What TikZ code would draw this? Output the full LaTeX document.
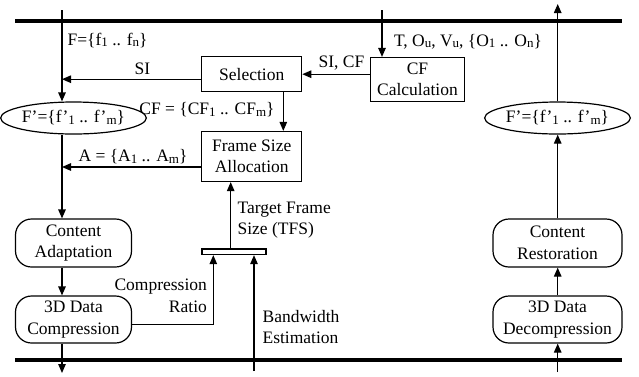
\documentclass[tikz,border=0pt]{standalone}
\usepackage{fontspec}
\setmainfont{Liberation Serif}
\usetikzlibrary{arrows.meta,shapes.geometric}
\newcommand\mysb[1]{\raisebox{-1.2pt}{\fontsize{13}{13}\selectfont #1}}
\begin{document}
\begin{tikzpicture}[x=1pt,y=-1pt,
  font=\fontsize{17.5}{21.5}\selectfont,
  line width=1.2pt,
  arr/.style={-{Triangle[length=9pt,width=7.5pt]}},
  sqbox/.style={draw,rectangle,inner sep=0pt,align=center},
  rbox/.style={draw,rectangle,rounded corners=16pt,inner sep=0pt,align=center},
  ell/.style={draw,ellipse,inner sep=0pt},
  lbl/.style={inner sep=0pt},
  bus/.style={line width=4pt}]
\useasboundingbox (0,0) rectangle (639,376);
% buses
\coordinate (tl) at (15,21); \coordinate (tr) at (622,21);
\coordinate (bl) at (15,360); \coordinate (br) at (622,360);
\draw[bus] (tl) -- (tr);
\draw[bus] (bl) -- (br);
% nodes
\node[sqbox,minimum width=100pt,minimum height=35pt] (sel) at (251.7,74.2) {Selection};
\node[sqbox,minimum width=94pt,minimum height=44pt] (cfc) at (417.5,79.5) {CF\\Calculation};
\node[sqbox,minimum width=100pt,minimum height=50pt] (fsa) at (251.7,156.5) {Frame Size\\Allocation};
\node[ell,minimum width=117pt,minimum height=32pt] (lell) at (73.5,118) {F’=\{f’\mysb{1} .. f’\mysb{m}\}};
\node[ell,minimum width=128pt,minimum height=32pt] (rell) at (557.5,118) {F’=\{f’\mysb{1} .. f’\mysb{m}\}};
\node[rbox,minimum width=116pt,minimum height=48pt] (cad) at (73.5,243) {Content\\Adaptation};
\node[rbox,minimum width=116pt,minimum height=47pt] (comp) at (73.5,319.5) {3D Data\\Compression};
\node[rbox,minimum width=129pt,minimum height=48pt] (rest) at (557.5,243) {Content\\Restoration};
\node[rbox,minimum width=129pt,minimum height=47pt] (dcomp) at (557.5,319.5) {3D Data\\Decompression};
\node[draw,rectangle,minimum width=64pt,minimum height=5.5pt,inner sep=0pt] (bar) at (234,251.8) {};
% free ends
\coordinate (inF) at (62,10);
\coordinate (outL) at (62,373);
\coordinate (inT) at (382,10);
\coordinate (inR) at (557.7,372);
\coordinate (outR) at (557.7,4);
\coordinate (inBW) at (254,371);
\coordinate (crc) at (213.3,324.5);
% connectors left
\draw[arr] (inF) -- (inF |- lell.north);
\draw[arr] ([yshift=-5pt]sel.west) coordinate (siS) -- (siS -| inF);
\draw[arr] ([yshift=-10.5pt]fsa.west) coordinate (aS) -- (aS -| inF);
\draw[arr] (inF |- lell.south) -- (inF |- cad.north);
\draw[arr] (inF |- cad.south) -- (inF |- comp.north);
\draw[arr] (inF |- comp.south) -- (outL);
% top middle
\draw[arr] (inT) -- (inT |- cfc.north);
\draw[arr] (sel.east -| cfc.west) -- (sel.east);
\draw[arr] (sel.south -| 283.3,0) coordinate (sdS) -- (sdS |- fsa.north);
% bar
\draw[arr] (bar.north -| 230.7,0) coordinate (tfsS) -- (tfsS |- fsa.south);
\draw[arr] (comp.east |- crc) -- (crc) -- (crc |- bar.south);
\draw[arr] (inBW) -- (inBW |- bar.south);
% right
\draw[arr] (inR) -- (inR |- dcomp.south);
\draw[arr] (inR |- dcomp.north) -- (inR |- rest.south);
\draw[arr] (inR |- rest.north) -- (inR |- rell.south);
\draw[arr] (inR |- rell.north) -- (outR);
% labels
\node[lbl,anchor=base west] (lF) at (67,45.5) {F=\{f\mysb{1} .. f\mysb{n}\}};
\node[lbl] (lSI) at (142.5,69) {SI};
\node[lbl] (lCF) at (207,110) {CF = \{CF\mysb{1} .. CF\mysb{m}\}};
\node[lbl] (lA) at (133,157) {A = \{A\mysb{1} .. A\mysb{m}\}};
\node[lbl] (lSICF) at (341.5,63) {SI, CF};
\node[lbl] (lT) at (468,42) {T, O\mysb{u}, V\mysb{u}, \{O\mysb{1} .. O\mysb{n}\}};
\node[lbl,anchor=east,align=right] (lCR) at (207.5,296) {Compression\\Ratio};
\node[lbl,anchor=west,align=left] (lTFS) at (237,220) {Target Frame\\Size (TFS)};
\node[lbl,anchor=west,align=left] (lBW) at (262,327) {Bandwidth\\Estimation};
\end{tikzpicture}
\end{document}
